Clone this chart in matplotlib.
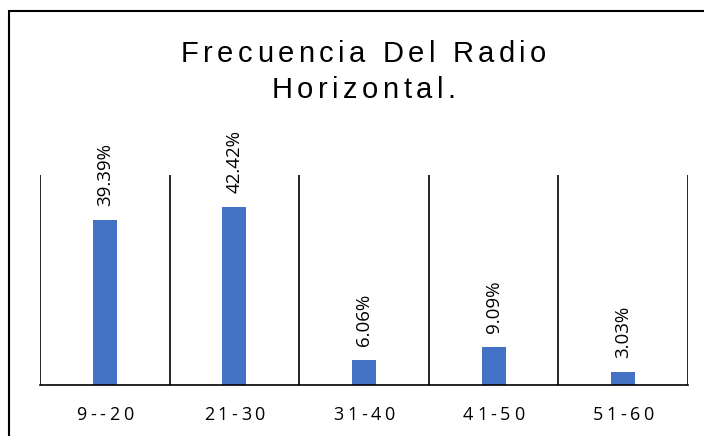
import matplotlib.pyplot as plt
from matplotlib.patches import Rectangle
from matplotlib.font_manager import FontProperties, findfont
from matplotlib.ft2font import FT2Font

# Datos del gráfico
categorias = ["9--20", "21-30", "31-40", "41-50", "51-60"]
frecuencias = [0.3939, 0.4242, 0.0606, 0.0909, 0.0303]
etiquetas = ["39.39%", "42.42%", "6.06%", "9.09%", "3.03%"]
titulo = ["Frecuencia Del Radio", "Horizontal."]

BAR_COLOR = "#4472C4"
W, H = 704, 436
DPI = 100


def texto_espaciado(fig, xc, y_base, texto, familia, size, espacio):
    """Dibuja texto centrado en xc (px) con espaciado extra entre letras."""
    font = FT2Font(findfont(FontProperties(family=familia)))
    font.set_size(size, DPI)
    avances = [font.load_char(ord(c)).linearHoriAdvance / 65536 for c in texto]
    total = sum(avances) + espacio * (len(texto) - 1)
    x = xc - total / 2
    for c, a in zip(texto, avances):
        if c != " ":
            fig.text(x / W, 1 - y_base / H, c, ha="left", va="baseline",
                     fontsize=size, family=familia, color="black")
        x += a + espacio


fig = plt.figure(figsize=(W / DPI, H / DPI), dpi=DPI)

# Marco exterior (cortado a la derecha y abajo)
fig.patches.append(Rectangle((9 / W, -0.05), 1.1, (H - 11) / H + 0.05,
                             transform=fig.transFigure, fill=False,
                             edgecolor="black", linewidth=1.5))

ax = fig.add_axes([40 / W, (H - 385) / H, (688 - 40) / W, 210 / H])
x = list(range(len(categorias)))
ax.bar(x, frecuencias, width=0.185, color=BAR_COLOR)

ax.set_xlim(-0.5, len(categorias) - 0.5)
ax.set_ylim(0, 0.5)
for i in range(len(categorias) + 1):
    ax.axvline(i - 0.5, color="black", linewidth=1.2)

for s in ["top", "right", "left"]:
    ax.spines[s].set_visible(False)
ax.spines["bottom"].set_linewidth(1.2)
ax.set_yticks([])
ax.set_xticks([])

for xi, v, lab in zip(x, frecuencias, etiquetas):
    ax.annotate(lab, (xi, v), xytext=(0, 10), textcoords="offset points",
                rotation=90, ha="center", va="bottom", fontsize=13.5,
                family="Open Sans")

# Etiquetas del eje x con espaciado entre letras
fig.canvas.draw()
for xi, cat in zip(x, categorias):
    xc = ax.transData.transform((xi, 0))[0]
    texto_espaciado(fig, xc, 420, cat, "Open Sans", 13, 3.5)

# Título con espaciado entre letras
texto_espaciado(fig, 363.5, 62, titulo[0], "Liberation Sans", 21, 4.5)
texto_espaciado(fig, 363.5, 98, titulo[1], "Liberation Sans", 21, 4.5)

fig.savefig("out.png", dpi=DPI)
